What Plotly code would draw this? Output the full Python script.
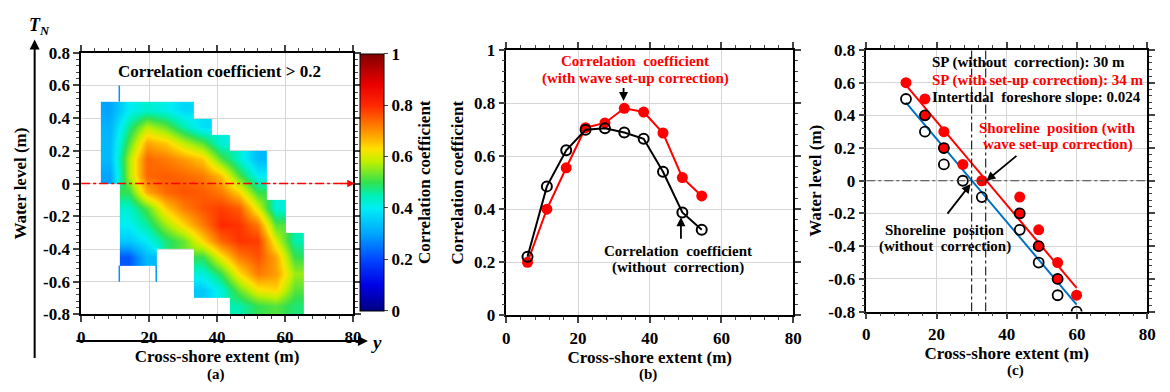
import plotly.graph_objects as go

W, H = 1170, 392
FONT = "'Liberation Serif', 'Times New Roman', Times, serif"

# ---------------- Panel (a): correlation map ----------------
cell_x = [8.52, 13.95, 19.38, 24.81, 30.24, 35.67, 41.10, 46.53, 51.96, 57.39, 62.82]
cell_y = [0.45, 0.35, 0.25, 0.15, 0.05, -0.05, -0.15, -0.25, -0.35, -0.45, -0.55, -0.65, -0.75]
N = None
corr_grid = [
    [0.30, 0.40, 0.43, 0.41, 0.37, N, N, N, N, N, N],
    [0.32, 0.47, 0.58, 0.53, 0.45, 0.38, N, N, N, N, N],
    [0.33, 0.52, 0.68, 0.65, 0.58, 0.52, 0.42, N, N, N, N],
    [0.33, 0.57, 0.74, 0.72, 0.69, 0.65, 0.52, 0.43, 0.33, N, N],
    [0.30, 0.57, 0.74, 0.75, 0.74, 0.72, 0.66, 0.52, 0.40, N, N],
    [N, 0.50, 0.68, 0.74, 0.76, 0.75, 0.72, 0.64, 0.50, N, N],
    [N, 0.43, 0.52, 0.65, 0.72, 0.76, 0.78, 0.75, 0.60, 0.42, N],
    [N, 0.40, 0.46, 0.56, 0.64, 0.72, 0.80, 0.79, 0.72, 0.52, N],
    [N, 0.35, 0.40, 0.48, 0.53, 0.64, 0.74, 0.79, 0.78, 0.60, 0.45],
    [N, 0.22, 0.33, N, N, 0.50, 0.62, 0.72, 0.76, 0.68, 0.50],
    [N, N, N, N, N, 0.42, 0.50, 0.63, 0.72, 0.69, 0.56],
    [N, N, N, N, N, 0.35, 0.42, 0.53, 0.62, 0.64, 0.52],
    [N, N, N, N, N, N, N, 0.45, 0.50, 0.52, 0.48],
]
spike_x = [11.23, 11.23, 22.09]
spike_y_from = [0.5, -0.5, -0.5]
spike_y_to = [0.6, -0.6, -0.6]

# ---------------- Panel (b): correlation profiles ----------------
b_x = [5.9, 11.3, 16.7, 22.1, 27.5, 32.9, 38.3, 43.7, 49.1, 54.5]
corr_with = [0.20, 0.40, 0.556, 0.707, 0.725, 0.78, 0.766, 0.687, 0.519, 0.45]
corr_without = [0.221, 0.486, 0.622, 0.699, 0.705, 0.689, 0.665, 0.541, 0.388, 0.323]

# ---------------- Panel (c): shoreline position ----------------
c_x = [11.3, 16.7, 16.7, 22.1, 22.1, 27.5, 32.9, 43.7, 43.7, 49.1, 49.1, 54.5, 54.5, 59.9]
wl_with = [0.6, 0.5, 0.4, 0.3, 0.2, 0.1, 0.0, -0.1, -0.2, -0.3, -0.4, -0.5, -0.6, -0.7]
wl_without = [0.5, 0.4, 0.3, 0.2, 0.1, 0.0, -0.1, -0.2, -0.3, -0.4, -0.5, -0.6, -0.7, -0.8]
fit_x = [11.3, 59.9]
fit_with = [0.585, -0.655]
fit_without = [0.478, -0.757]
sp_without = 30
sp_with = 34

# tick labels
x_ticks = [0, 20, 40, 60, 80]
x_ticktext = ["0", "20", "40", "60", "80"]
wl_ticks = [0.8, 0.6, 0.4, 0.2, 0, -0.2, -0.4, -0.6, -0.8]
wl_ticktext = ["0.8", "0.6", "0.4", "0.2", "0", "-0.2", "-0.4", "-0.6", "-0.8"]
cc_ticks = [0, 0.2, 0.4, 0.6, 0.8, 1]
cc_ticktext = ["0", "0.2", "0.4", "0.6", "0.8", "1"]

jet = [
    [0.0, "rgb(0,0,130)"], [0.1, "rgb(0,0,230)"], [0.2, "rgb(0,70,255)"],
    [0.3, "rgb(0,165,255)"], [0.4, "rgb(0,238,245)"], [0.45, "rgb(0,240,180)"],
    [0.5, "rgb(50,225,80)"], [0.58, "rgb(190,240,0)"], [0.63, "rgb(255,225,0)"],
    [0.7, "rgb(255,145,0)"], [0.8, "rgb(255,40,0)"], [0.88, "rgb(235,0,0)"],
    [1.0, "rgb(130,0,0)"],
]

RED = "rgb(255,0,0)"
BLUE = "rgb(0,112,192)"

fig = go.Figure()

fig.add_trace(go.Heatmap(
    x=cell_x, y=cell_y, z=corr_grid, zmin=0, zmax=1, zsmooth="best",
    colorscale=jet, xaxis="x", yaxis="y", hoverongaps=False,
    colorbar=dict(
        x=360 / W, xanchor="left", xpad=0, y=1 - 47 / H, yanchor="top", ypad=0,
        len=270 / H, lenmode="fraction", thickness=24, outlinewidth=1, outlinecolor="black",
        tickvals=cc_ticks, ticktext=cc_ticktext, ticks="outside", ticklen=4,
        tickfont=dict(family=FONT, size=17, color="black", weight="bold"),
        title=dict(text="Correlation coefficient", side="right",
                   font=dict(family=FONT, size=17, color="black", weight="bold")),
    ),
))
for sx, y0, y1 in zip(spike_x, spike_y_from, spike_y_to):
    fig.add_trace(go.Scatter(x=[sx, sx], y=[y0, y1], mode="lines",
                             line=dict(color="rgb(0,150,255)", width=1.5),
                             xaxis="x", yaxis="y", showlegend=False, hoverinfo="skip"))

# panel (b)
fig.add_trace(go.Scatter(x=b_x, y=corr_with, mode="lines+markers", xaxis="x2", yaxis="y2",
                         line=dict(color=RED, width=2),
                         marker=dict(symbol="circle", size=11, color=RED), showlegend=False))
fig.add_trace(go.Scatter(x=b_x, y=corr_without, mode="lines+markers", xaxis="x2", yaxis="y2",
                         line=dict(color="black", width=2),
                         marker=dict(symbol="circle-open", size=10, color="black",
                                     line=dict(width=2)), showlegend=False))

# panel (c)
fig.add_trace(go.Scatter(x=fit_x, y=fit_with, mode="lines", xaxis="x3", yaxis="y3",
                         line=dict(color=RED, width=2), showlegend=False))
fig.add_trace(go.Scatter(x=fit_x, y=fit_without, mode="lines", xaxis="x3", yaxis="y3",
                         line=dict(color=BLUE, width=2), showlegend=False))
fig.add_trace(go.Scatter(x=c_x, y=wl_with, mode="markers", xaxis="x3", yaxis="y3",
                         marker=dict(symbol="circle", size=11, color=RED), showlegend=False))
fig.add_trace(go.Scatter(x=c_x, y=wl_without, mode="markers", xaxis="x3", yaxis="y3",
                         marker=dict(symbol="circle-open", size=10, color="black",
                                     line=dict(width=1.8)), showlegend=False))

tickfont = dict(family=FONT, size=17, color="black", weight="bold")
titlefont = dict(family=FONT, size=17, color="black", weight="bold")


def xax(domain, anchor, title, standoff=4):
    return dict(domain=domain, anchor=anchor, range=[0, 80], tickvals=x_ticks, ticktext=x_ticktext,
                ticks="outside", ticklen=6, tickwidth=1.5, showline=True, linewidth=1.5,
                linecolor="black", mirror="ticks", showgrid=True, gridcolor="rgb(215,215,215)",
                zeroline=False, tickfont=tickfont,
                minor=dict(dtick=4, tick0=0, ticks="outside", ticklen=3, tickwidth=1.2, showgrid=False),
                title=dict(text=title, font=titlefont, standoff=standoff))


def yax(domain, anchor, rng, tv, tt, minor_dt, title, standoff):
    return dict(domain=domain, anchor=anchor, range=rng, tickvals=tv, ticktext=tt,
                ticks="outside", ticklen=6, tickwidth=1.5, showline=True, linewidth=1.5,
                linecolor="black", mirror="ticks", showgrid=True, gridcolor="rgb(215,215,215)",
                zeroline=False, tickfont=tickfont,
                minor=dict(dtick=minor_dt, tick0=0, ticks="outside", ticklen=3, tickwidth=1.2, showgrid=False),
                title=dict(text=title, font=titlefont, standoff=standoff))


fig.update_layout(
    width=W, height=H, margin=dict(l=0, r=0, t=0, b=0),
    paper_bgcolor="white", plot_bgcolor="white", showlegend=False,
    font=dict(family=FONT, size=15, color="black", weight="bold"),
    xaxis=xax([78 / W, 353 / W], "y", "Cross-shore extent (m)", 3),
    yaxis=yax([1 - 321 / H, 1 - 46 / H], "x", [-0.8, 0.8], wl_ticks, wl_ticktext, 0.04,
              "Water level (m)", 12),
    xaxis2=xax([508 / W, 798 / W], "y2", "Cross-shore extent (m)", 2),
    yaxis2=yax([1 - 322 / H, 1 - 43 / H], "x2", [0, 1], cc_ticks, cc_ticktext, 0.04,
               "Correlation coefficient", 6),
    xaxis3=xax([872 / W, 1156 / W], "y3", "Cross-shore extent (m)", 0),
    yaxis3=yax([1 - 318 / H, 1 - 43 / H], "x3", [-0.8, 0.8], wl_ticks, wl_ticktext, 0.04,
               "Water level (m)", 2),
)

shapes = []
# panel (a) red dash-dot line at zero water level
shapes.append(dict(type="line", xref="x", yref="y", x0=0, x1=78, y0=0, y1=0,
                   line=dict(color=RED, width=1.5, dash="dashdot")))
# panel (c) reference lines
shapes.append(dict(type="line", xref="x3", yref="y3", x0=0, x1=80, y0=0, y1=0,
                   line=dict(color="rgb(70,70,70)", width=1.2, dash="dashdot")))
for sp in (sp_without, sp_with):
    shapes.append(dict(type="line", xref="x3", yref="y3", x0=sp, x1=sp, y0=-0.8, y1=0.8,
                       line=dict(color="rgb(40,40,40)", width=1.2, dash="dashdot")))
fig.update_layout(shapes=shapes)

ann = []


def txt(x, y, text, xref, yref, color="black", size=15, xanchor="center", italic=False,
        yanchor="middle"):
    t = f"<i>{text}</i>" if italic else text
    ann.append(dict(x=x, y=y, xref=xref, yref=yref, text=t, showarrow=False, xanchor=xanchor,
                    yanchor=yanchor, borderpad=0,
                    font=dict(family=FONT, size=size, color=color, weight="bold")))


def arrow(x, y, ax, ay, xref, yref, color="black", width=2, axref=None, ayref=None, head=2, size=1):
    d = dict(x=x, y=y, ax=ax, ay=ay, xref=xref, yref=yref, showarrow=True, text="",
             arrowhead=head, arrowsize=size, arrowwidth=width, arrowcolor=color)
    if axref:
        d["axref"] = axref
        d["ayref"] = ayref
    ann.append(d)


# panel (a)
txt(40.6, 0.684, "Correlation coefficient > 0.2", "x", "y", size=17)
arrow(80.5, 0, 76, 0, "x", "y", color=RED, width=1.5, axref="x", ayref="y")
arrow(31 / W, 1 - 32 / H, 0, 320, "paper", "paper", width=2)
arrow(368 / W, 1 - 349 / H, -293, 0, "paper", "paper", width=2)
txt(36 / W, 1 - 18 / H, "T<sub>N</sub>", "paper", "paper", size=18, italic=True)
txt(377 / W, 1 - 351 / H, "y", "paper", "paper", size=19, italic=True)
txt(214 / W, -2 / H, "(a)", "paper", "paper", size=15, yanchor="bottom")

# panel (b)
txt(35.9, 0.958, "Correlation  coefficient", "x2", "y2", color=RED, size=15)
txt(35.9, 0.894, "(with wave set-up correction)", "x2", "y2", color=RED, size=15)
arrow(32.7, 0.808, 32.7, 0.862, "x2", "y2", axref="x2", ayref="y2", width=1.8)
txt(48.0, 0.244, "Correlation  coefficient", "x2", "y2", size=15)
txt(48.0, 0.179, "(without  correction)", "x2", "y2", size=15)
arrow(48.7, 0.37, 48.7, 0.283, "x2", "y2", axref="x2", ayref="y2", width=1.8)
txt(651 / W, -2 / H, "(b)", "paper", "paper", size=15, yanchor="bottom")

# panel (c)
txt(18.3, 0.72, "SP (without  correction): 30 m", "x3", "y3", size=15, xanchor="left")
txt(18.3, 0.615, "SP (with set-up correction): 34 m", "x3", "y3", color=RED, size=15, xanchor="left")
txt(18.3, 0.51, "Intertidal  foreshore slope: 0.024", "x3", "y3", size=15, xanchor="left")
txt(54.5, 0.32, "Shoreline  position (with", "x3", "y3", color=RED, size=15)
txt(54.5, 0.22, "wave set-up correction)", "x3", "y3", color=RED, size=15)
arrow(34.2, 0.0, 43.2, 0.16, "x3", "y3", axref="x3", ayref="y3", width=1.8)
txt(22.5, -0.30, "Shoreline  position", "x3", "y3", size=15)
txt(22.5, -0.40, "(without  correction)", "x3", "y3", size=15)
arrow(29.7, -0.02, 22.8, -0.21, "x3", "y3", axref="x3", ayref="y3", width=1.8)
txt(1023 / W, 2 / H, "(c)", "paper", "paper", size=15, yanchor="bottom")

fig.update_layout(annotations=ann)

fig.write_html("out.html")
